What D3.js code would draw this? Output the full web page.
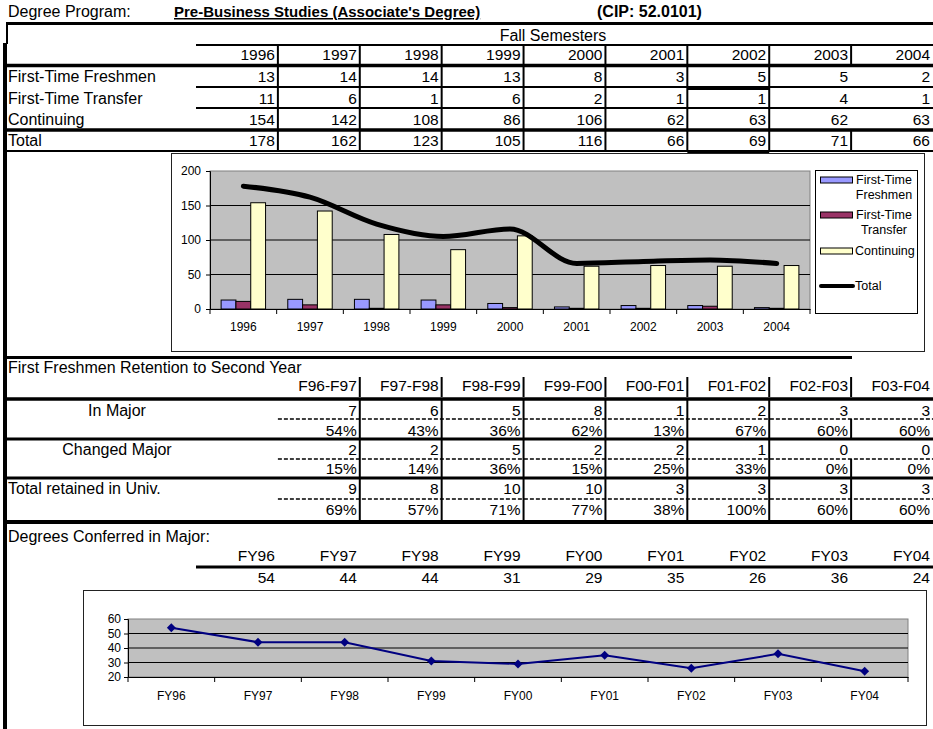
<!DOCTYPE html>
<html>
<head>
<meta charset="utf-8">
<script src="https://d3js.org/d3.v7.min.js"></script>
<style>
body { margin: 0; background: #fff; }
svg { display: block; }
text { font-family: "Liberation Sans", Arial, sans-serif; fill: #000; }
</style>
</head>
<body>
<div id="viz"><svg width="933" height="729"></svg></div>
<script>
// enrollment table + bar chart
const years = ['1996', '1997', '1998', '1999', '2000', '2001', '2002', '2003', '2004'];
const freshmen = [13, 14, 14, 13, 8, 3, 5, 5, 2];
const transfer = [11, 6, 1, 6, 2, 1, 1, 4, 1];
const continuing = [154, 142, 108, 86, 106, 62, 63, 62, 63];
const total = [178, 162, 123, 105, 116, 66, 69, 71, 66];
const seriesNames = ['First-Time Freshmen', 'First-Time Transfer', 'Continuing', 'Total'];

// retention table
const retLabels = ['F96-F97', 'F97-F98', 'F98-F99', 'F99-F00', 'F00-F01', 'F01-F02', 'F02-F03', 'F03-F04'];
const inMajor = [7, 6, 5, 8, 1, 2, 3, 3];
const inMajorPct = [54, 43, 36, 62, 13, 67, 60, 60];
const changedMajor = [2, 2, 5, 2, 2, 1, 0, 0];
const changedPct = [15, 14, 36, 15, 25, 33, 0, 0];
const retained = [9, 8, 10, 10, 3, 3, 3, 3];
const retainedPct = [69, 57, 71, 77, 38, 100, 60, 60];

// degrees conferred
const fyLabels = ['FY96', 'FY97', 'FY98', 'FY99', 'FY00', 'FY01', 'FY02', 'FY03', 'FY04'];
const degrees = [54, 44, 44, 31, 29, 35, 26, 36, 24];

const svg = d3.select('#viz svg');
svg.append('rect').attr('width', 933).attr('height', 729).attr('fill', '#fff');

// spreadsheet columns
const col = d3.scaleBand().domain(d3.range(9)).range([196, 933]);
const right = i => col(i) + col.bandwidth();
const NUM = 15.5;

function hline(y, x1, x2, w) {
	svg.append('line').attr('x1', x1).attr('x2', x2).attr('y1', y).attr('y2', y)
		.attr('stroke', '#000').attr('stroke-width', w);
}
function vline(x, y1, y2, w) {
	svg.append('line').attr('x1', x).attr('x2', x).attr('y1', y1).attr('y2', y2)
		.attr('stroke', '#000').attr('stroke-width', w || 2);
}
function txt(x, y, s, anchor, size, weight) {
	return svg.append('text').attr('x', x).attr('y', y).text(s)
		.attr('text-anchor', anchor || 'start')
		.style('font-size', (size || 16) + 'px')
		.style('font-weight', weight || 'normal');
}

// title
txt(8, 17, 'Degree Program:');
txt(174, 17, "Pre-Business Studies (Associate's Degree)", 'start', 15, 'bold')
	.style('text-decoration', 'underline');
txt(597, 17, '(CIP: 52.0101)', 'start', 16, 'bold');

// left border
svg.append('rect').attr('x', 3).attr('y', 43).attr('width', 4).attr('height', 686).attr('fill', '#000');
vline(7, 22, 44, 2);

// ---------- enrollment table ----------
hline(23.5, 6, 933, 3);
txt(553, 41, 'Fall Semesters', 'middle');
hline(45, 196, 933, 2);
years.forEach((y, i) => txt(right(i) - 3, 60, y, 'end', NUM));
hline(65.5, 6, 933, 3.5);

const rows1 = [
	{ label: seriesNames[0], vals: freshmen, base: 82, top: 67, bot: 87 },
	{ label: seriesNames[1], vals: transfer, base: 104, top: 87, bot: 108 },
	{ label: seriesNames[2], vals: continuing, base: 125, top: 108, bot: 129 },
	{ label: seriesNames[3], vals: total, base: 146, top: 131, bot: 151 }
];
rows1.forEach((r, ri) => {
	txt(8, r.base, r.label);
	r.vals.forEach((v, i) => txt(right(i) - 3, r.base, v, 'end', NUM));
	d3.range(8).forEach(i => {
		if (i === 7 && ri < 3) return;
		vline(right(i), r.top, r.bot);
	});
});
d3.range(8).forEach(i => vline(right(i), 45, 64));
hline(87, 196, 933, 2);
hline(88.5, col(6), right(6), 3);
hline(108, 196, 933, 2);
hline(130, 6, 933, 3.5);
hline(151, 6, 933, 2);
hline(152.5, col(6), right(6), 3);

// ---------- chart 1 ----------
svg.append('rect').attr('x', 171.5).attr('y', 153.5).attr('width', 753).attr('height', 198)
	.attr('fill', '#fff').attr('stroke', '#222').attr('stroke-width', 1);

const x0 = d3.scaleBand().domain(years).range([210, 810]);
const keys = ['f', 't', 'c'];
const x1 = d3.scaleBand().domain(keys).range([0, x0.bandwidth()]).paddingOuter(0.75);
const y = d3.scaleLinear().domain([0, 200]).range([309, 171]);
const colors = { f: '#9999FF', t: '#993366', c: '#FFFFCC' };
const barData = years.map((yr, i) => ({ year: yr, f: freshmen[i], t: transfer[i], c: continuing[i] }));

const g1 = svg.append('g');
g1.append('rect').attr('x', 210).attr('y', 171).attr('width', 600).attr('height', 138)
	.attr('fill', '#C0C0C0').attr('stroke', '#808080');
g1.selectAll('line.grid').data([50, 100, 150]).enter().append('line')
	.attr('x1', 210).attr('x2', 810).attr('y1', d => y(d)).attr('y2', d => y(d))
	.attr('stroke', '#000').attr('stroke-width', 1);

g1.selectAll('g.grp').data(barData).enter().append('g')
	.attr('transform', d => `translate(${x0(d.year)},0)`)
	.selectAll('rect').data(d => keys.map(k => ({ k, v: d[k] }))).enter().append('rect')
	.attr('x', d => x1(d.k)).attr('width', x1.bandwidth())
	.attr('y', d => y(d.v)).attr('height', d => y(0) - y(d.v))
	.attr('fill', d => colors[d.k]).attr('stroke', '#000').attr('stroke-width', 1);

const yAx = g1.append('g').attr('transform', 'translate(210,0)')
	.call(d3.axisLeft(y).tickValues([0, 50, 100, 150, 200]).tickSize(4).tickPadding(5));
yAx.select('.domain').attr('stroke', '#000');
yAx.selectAll('text').style('font-size', '12px');

const xAx = g1.append('g').attr('transform', 'translate(0,309)')
	.call(d3.axisBottom(x0).tickSize(0).tickPadding(13));
xAx.select('.domain').attr('stroke', '#000');
xAx.selectAll('text').style('font-size', '12px');
g1.selectAll('line.xt').data(years.concat(['end'])).enter().append('line')
	.attr('x1', d => d === 'end' ? 810 : x0(d)).attr('x2', d => d === 'end' ? 810 : x0(d))
	.attr('y1', 309).attr('y2', 314).attr('stroke', '#000');

const totalLine = d3.line()
	.x((d, i) => x0(years[i]) + x0.bandwidth() / 2)
	.y(d => y(d))
	.curve(d3.curveMonotoneX);
g1.append('path').datum(total).attr('d', totalLine)
	.attr('fill', 'none').attr('stroke', '#000').attr('stroke-width', 5)
	.attr('stroke-linecap', 'round').attr('stroke-linejoin', 'round');

// legend
const lg = svg.append('g');
lg.append('rect').attr('x', 815.5).attr('y', 170.5).attr('width', 102).attr('height', 143)
	.attr('fill', '#fff').attr('stroke', '#000');
const legendItems = [
	{ k: 'f', cy: 180, lines: ['First-Time', 'Freshmen'] },
	{ k: 't', cy: 215, lines: ['First-Time', 'Transfer'] },
	{ k: 'c', cy: 251, lines: ['Continuing'] }
];
legendItems.forEach(it => {
	lg.append('rect').attr('x', 820.5).attr('y', it.cy - 3).attr('width', 32).attr('height', 6)
		.attr('fill', colors[it.k]).attr('stroke', '#000');
	it.lines.forEach((l, j) => {
		lg.append('text').attr('x', it.lines.length > 1 ? 884 : 855).attr('y', it.cy + 4 + j * 15)
			.attr('text-anchor', it.lines.length > 1 ? 'middle' : 'start')
			.style('font-size', '12.5px').text(l);
	});
});
lg.append('line').attr('x1', 821).attr('x2', 853).attr('y1', 286).attr('y2', 286)
	.attr('stroke', '#000').attr('stroke-width', 4).attr('stroke-linecap', 'round');
lg.append('text').attr('x', 855).attr('y', 290).style('font-size', '12.5px').text('Total');

hline(357.5, 6, 852, 3);

// ---------- retention table ----------
txt(8, 373, 'First Freshmen Retention to Second Year');
retLabels.forEach((s, i) => {
	txt(right(i + 1) - 3, 391, s, 'end', NUM);
	if (i < 7) vline(right(i + 1), 377, 397);
});
hline(399, 6, 933, 3.5);

const rows2 = [
	{ label: 'In Major', vals: inMajor, pcts: inMajorPct, vb: 416, pb: 436, top: 400, mid: 419, bot: 438 },
	{ label: 'Changed Major', vals: changedMajor, pcts: changedPct, vb: 455, pb: 474, top: 440, mid: 459, bot: 477 },
	{ label: 'Total retained in Univ.', vals: retained, pcts: retainedPct, vb: 494, pb: 515, top: 479, mid: 499, bot: 520 }
];
rows2.forEach((r, ri) => {
	if (ri < 2) txt(117, r.vb, r.label, 'middle');
	else txt(8, r.vb, r.label);
	r.vals.forEach((v, i) => txt(right(i + 1) - 3, r.vb, v, 'end', NUM));
	r.pcts.forEach((v, i) => txt(right(i + 1) - 3, r.pb, v + '%', 'end', NUM));
	svg.append('line').attr('x1', col(1)).attr('x2', 933).attr('y1', r.mid).attr('y2', r.mid)
		.attr('stroke', '#000').attr('stroke-width', 1.5).attr('stroke-dasharray', '4,2');
	d3.range(1, 8).forEach(i => {
		if (i === 7 && ri < 2) vline(right(i), r.mid, r.bot);
		else vline(right(i), r.top, r.bot);
	});
});
hline(439, 6, 933, 3);
hline(478, 6, 933, 3);
hline(522, 6, 933, 4);

// ---------- degrees conferred ----------
txt(8, 542, 'Degrees Conferred in Major:');
fyLabels.forEach((s, i) => txt(right(i) - 3, 561, s, 'end', NUM));
hline(567, 196, 933, 3);
degrees.forEach((v, i) => txt(right(i) - 3, 583, v, 'end', NUM));

svg.append('rect').attr('x', 83.5).attr('y', 590.5).attr('width', 843).attr('height', 135)
	.attr('fill', '#fff').attr('stroke', '#222');

const xf = d3.scaleBand().domain(fyLabels).range([128, 908]);
const yf = d3.scaleLinear().domain([20, 60]).range([677, 619]);
const g2 = svg.append('g');
g2.append('rect').attr('x', 128).attr('y', 619).attr('width', 780).attr('height', 58)
	.attr('fill', '#C0C0C0').attr('stroke', '#808080');
g2.selectAll('line.grid').data([30, 40, 50]).enter().append('line')
	.attr('x1', 128).attr('x2', 908).attr('y1', d => yf(d)).attr('y2', d => yf(d))
	.attr('stroke', '#000');
const yAx2 = g2.append('g').attr('transform', 'translate(128,0)')
	.call(d3.axisLeft(yf).tickValues([20, 30, 40, 50, 60]).tickSize(4).tickPadding(3));
yAx2.select('.domain').attr('stroke', '#000');
yAx2.selectAll('text').style('font-size', '12px');
const xAx2 = g2.append('g').attr('transform', 'translate(0,677)')
	.call(d3.axisBottom(xf).tickSize(0).tickPadding(14));
xAx2.select('.domain').attr('stroke', '#000');
xAx2.selectAll('text').style('font-size', '12px');
g2.selectAll('line.xt').data(fyLabels.concat(['end'])).enter().append('line')
	.attr('x1', d => d === 'end' ? 908 : xf(d)).attr('x2', d => d === 'end' ? 908 : xf(d))
	.attr('y1', 677).attr('y2', 682).attr('stroke', '#000');

const degLine = d3.line().x((d, i) => xf(fyLabels[i]) + xf.bandwidth() / 2).y(d => yf(d));
g2.append('path').datum(degrees).attr('d', degLine)
	.attr('fill', 'none').attr('stroke', '#000080').attr('stroke-width', 2);
g2.selectAll('path.pt').data(degrees).enter().append('path')
	.attr('d', d3.symbol(d3.symbolSquare, 40))
	.attr('transform', (d, i) => `translate(${xf(fyLabels[i]) + xf.bandwidth() / 2},${yf(d)}) rotate(45)`)
	.attr('fill', '#000080');
</script>
</body>
</html>
